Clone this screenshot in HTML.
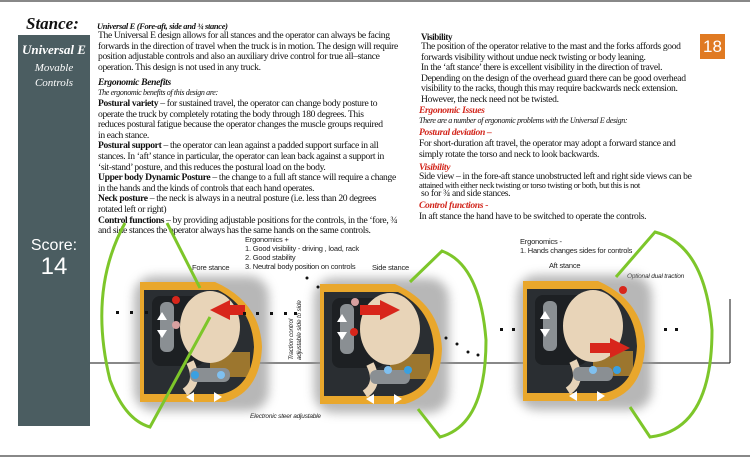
<!DOCTYPE html>
<html><head><meta charset="utf-8"><style>
body{margin:0;width:750px;height:457px;background:#fff;position:relative;overflow:hidden;font-family:"Liberation Serif",serif;color:#111}
.t{position:absolute;white-space:nowrap;font-size:9.6px;line-height:10.6px;letter-spacing:-0.35px}
.s{position:absolute;white-space:nowrap;font-family:"Liberation Sans",sans-serif;font-size:7.5px;color:#222;line-height:9px;letter-spacing:-0.2px}
b{font-weight:bold}
.r{color:#d2261c;font-weight:bold;font-style:italic}
.i{font-style:italic;font-size:8px}
</style></head><body>
<div style="position:absolute;left:0;top:0;width:750px;height:2px;background:#888"></div>
<div style="position:absolute;left:0;top:455px;width:750px;height:2px;background:#888"></div>
<div class="t" style="left:26px;top:15px;font-size:17px;line-height:18px;font-weight:bold;font-style:italic;letter-spacing:0">Stance:</div>
<div style="position:absolute;left:18px;top:35px;width:72px;height:391px;background:#4b5d61"></div>
<div class="t" style="left:18px;top:42px;width:72px;text-align:center;color:#fff;font-size:13px;line-height:15px;font-weight:bold;font-style:italic;letter-spacing:0">Universal E</div>
<div class="t" style="left:18px;top:61px;width:72px;text-align:center;color:#fff;font-size:11px;line-height:15px;font-style:italic;letter-spacing:0">Movable<br>Controls</div>
<div class="t" style="left:18px;top:238px;width:72px;text-align:center;color:#fff;font-family:'Liberation Sans',sans-serif;font-size:16px;line-height:16px;letter-spacing:0">Score:<br><span style="font-size:24px;line-height:26px">14</span></div>
<div style="position:absolute;left:700px;top:34px;width:25px;height:25px;background:#e07a22;color:#fff;font-family:'Liberation Sans',sans-serif;font-size:17px;line-height:25px;text-align:center">18</div>

<div class="t" style="left:97px;top:21px"><b><i style="font-size:8.5px">Universal E (Fore-aft, side and ¾ stance)</i></b></div>
<div class="t" style="left:98px;top:31px">The Universal E design allows for all stances and the operator can always be facing<br>forwards in the direction of travel when the truck is in motion. The design will require<br>position adjustable controls and also an auxiliary drive control for true all–stance<br>operation. This design is not used in any truck.</div>
<div class="t" style="left:98px;top:78px"><b><i>Ergonomic Benefits</i></b></div>
<div class="t i" style="left:98px;top:88px">The ergonomic benefits of this design are:</div>
<div class="t" style="left:98px;top:99px"><b>Postural variety</b> – for sustained travel, the operator can change body posture to<br>operate the truck by completely rotating the body through 180 degrees. This<br>reduces postural fatigue because the operator changes the muscle groups required<br>in each stance.<br><b>Postural support</b> – the operator can lean against a padded support surface in all<br>stances. In ‘aft’ stance in particular, the operator can lean back against a support in<br>‘sit-stand’ posture, and this reduces the postural load on the body.<br><b>Upper body Dynamic Posture</b> – the change to a full aft stance will require a change<br>in the hands and the kinds of controls that each hand operates.<br><b>Neck posture</b> – the neck is always in a neutral posture (i.e. less than 20 degrees<br>rotated left or right)<br><b>Control functions</b> – by providing adjustable positions for the controls, in the ‘fore, ¾<br>and side stances the operator always has the same hands on the same controls.</div>

<div class="t" style="left:421px;top:32px;font-size:9px"><b>Visibility</b></div>
<div class="t" style="left:421px;top:42px">The position of the operator relative to the mast and the forks affords good<br>forwards visibility without undue neck twisting or body leaning.<br>In the ‘aft stance’ there is excellent visibility in the direction of travel.<br>Depending on the design of the overhead guard there can be good overhead<br>visibility to the racks, though this may require backwards neck extension.<br>However, the neck need not be twisted.</div>
<div class="t r" style="left:419px;top:106px">Ergonomic Issues</div>
<div class="t i" style="left:419px;top:116px">There are a number of ergonomic problems with the Universal E design:</div>
<div class="t r" style="left:419px;top:128px">Postural deviation –</div>
<div class="t" style="left:419px;top:139px">For short-duration aft travel, the operator may adopt a forward stance and<br>simply rotate the torso and neck to look backwards.</div>
<div class="t r" style="left:419px;top:163px">Visibility</div>
<div class="t" style="left:419px;top:173px;line-height:8px">Side view – in the fore-aft stance unobstructed left and right side views can be<br><span style="font-size:8.5px">attained with either neck twisting or torso twisting or both, but this is not</span></div>
<div class="t" style="left:421px;top:189px">so for ¾ and side stances.</div>
<div class="t r" style="left:419px;top:201px">Control functions -</div>
<div class="t" style="left:419px;top:212px">In aft stance the hand have to be switched to operate the controls.</div>

<div class="s" style="left:245px;top:235px">Ergonomics +<br>1. Good visibility - driving , load, rack<br>2. Good stability<br>3. Neutral body position on controls</div>
<div class="s" style="left:192px;top:263px">Fore stance</div>
<div class="s" style="left:372px;top:263px">Side stance</div>
<div class="s" style="left:520px;top:237px">Ergonomics -<br>1. Hands changes sides for controls</div>
<div class="s" style="left:549px;top:261px">Aft stance</div>
<div class="s" style="left:627px;top:272px;font-style:italic;font-size:6.5px">Optional dual traction</div>
<div class="s" style="left:250px;top:412px;font-style:italic;font-size:6.5px">Electronic steer adjustable</div>
<div class="s" style="left:288px;top:360px;transform:rotate(-90deg);transform-origin:0 0;font-style:italic;font-size:6.5px;line-height:8px">Traction control<br>adjustable side to side</div>

<svg width="750" height="457" style="position:absolute;left:0;top:0">
<defs>
<filter id="sh" x="-30%" y="-30%" width="160%" height="160%"><feGaussianBlur stdDeviation="5"/></filter>
<g id="tr">
<rect x="-6" y="-6" width="135" height="135" rx="20" fill="#999" filter="url(#sh)" opacity=".7"/>
<path d="M0 0 H75 Q120 20 122 65 Q120 110 85 120 H0 Z" fill="#e9a72c"/>
<path d="M4 8 H78 Q112 25 114 65 Q112 105 82 112 H4 Z" fill="#2a2e32"/>
<rect x="12" y="14" width="52" height="70" rx="8" fill="#1d2023"/>
<rect x="70" y="70" width="40" height="25" fill="#e9a72c" opacity=".6"/>
<ellipse cx="70" cy="45" rx="30" ry="36" fill="#e8d4b8"/>
<path d="M50 80 Q60 100 45 110" stroke="#e8d4b8" stroke-width="8" fill="none"/>
<rect x="20" y="20" width="14" height="50" rx="6" fill="#8a8f93"/>
<rect x="50" y="86" width="40" height="14" rx="6" fill="#8a8f93"/>
<path d="M17 38 l5 -8 l5 8 z M17 48 l5 8 l5 -8 z M54 110 l-8 5 l8 5 z M74 110 l8 5 l-8 5 z" fill="#fff"/>
</g>
</defs>
<line x1="90" y1="363" x2="730" y2="363" stroke="#111" stroke-width="1"/>
<line x1="730" y1="299" x2="730" y2="363" stroke="#111" stroke-width="1"/>
<use href="#tr" x="140" y="282"/>
<use href="#tr" x="320" y="284"/>
<use href="#tr" x="523" y="281"/>
<path d="M230 300 l-20 10 l20 10 z M230 305 h15 v10 h-15z" fill="#d8261b"/>
<path d="M380 300 l20 10 l-20 10 z M360 305 h20 v10 h-20z" fill="#d8261b"/>
<path d="M610 338 l20 10 l-20 10 z M590 343 h20 v10 h-20z" fill="#d8261b"/>
<circle cx="176" cy="300" r="4" fill="#d8261b"/><circle cx="176" cy="325" r="4" fill="#d8a0a0"/>
<circle cx="195" cy="375" r="4" fill="#3aa0e0"/><circle cx="221" cy="375" r="4" fill="#7fc0f0"/>
<circle cx="355" cy="302" r="4" fill="#d8a0a0"/><circle cx="354" cy="332" r="4" fill="#d8261b"/>
<circle cx="388" cy="370" r="4" fill="#7fc0f0"/><circle cx="408" cy="370" r="4" fill="#3aa0e0"/>
<circle cx="623" cy="290" r="4" fill="#d8261b"/>
<circle cx="593" cy="370" r="4" fill="#7fc0f0"/><circle cx="617" cy="370" r="4" fill="#3aa0e0"/>
<g fill="#111">
<rect x="116" y="311" width="3" height="3"/><rect x="130" y="311" width="3" height="3"/><rect x="145" y="311" width="3" height="3"/>
<rect x="243" y="312" width="3" height="3"/><rect x="256" y="312" width="3" height="3"/><rect x="270" y="312" width="3" height="3"/><rect x="284" y="312" width="3" height="3"/><rect x="294" y="312" width="3" height="3"/>
<circle cx="307" cy="278" r="1.5"/><circle cx="318" cy="287" r="1.5"/>
<circle cx="446" cy="338" r="1.5"/><circle cx="457" cy="344" r="1.5"/><circle cx="468" cy="352" r="1.5"/><circle cx="478" cy="355" r="1.5"/>
<rect x="500" y="328" width="3" height="3"/><rect x="512" y="328" width="3" height="3"/>
<rect x="664" y="328" width="3" height="3"/><rect x="675" y="328" width="3" height="3"/>
</g>
<g fill="none" stroke="#7dc62a" stroke-width="3">
<path d="M125 223 Q88 290 110 380 Q125 420 150 427 L210 317"/>
<path d="M167 223 L200 288"/>
<path d="M410 282 L442 251 Q480 265 486 340 Q486 425 440 437 L418 409"/>
<path d="M616 277 L655 232 Q705 245 712 330 Q712 430 650 437 L630 407"/>
</g>
</svg>
</body></html>
